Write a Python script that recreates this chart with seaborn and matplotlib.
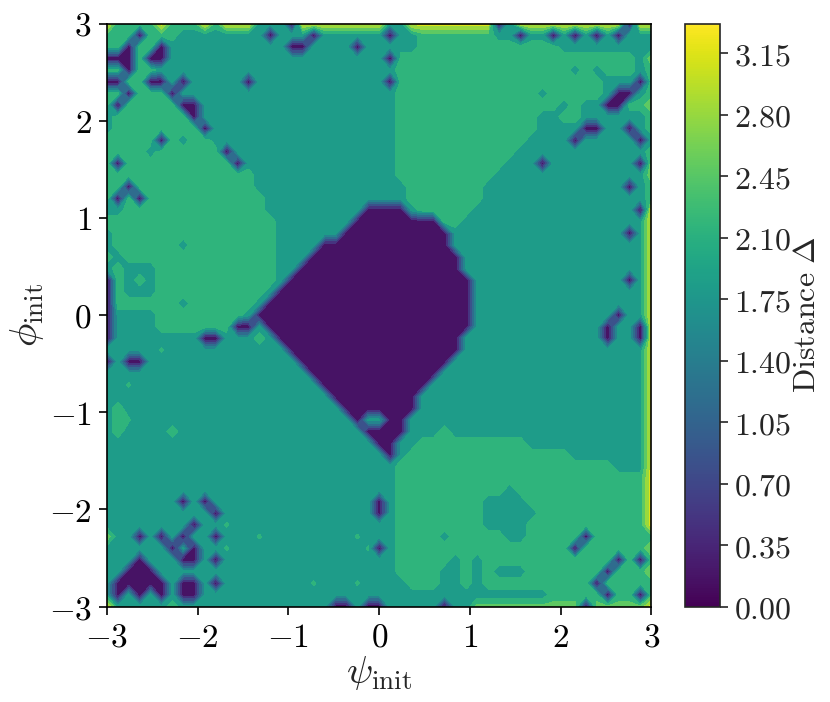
import numpy as np
import matplotlib
matplotlib.use("Agg")
import matplotlib.pyplot as plt
import seaborn as sns
from matplotlib.colors import Normalize
from matplotlib.cm import ScalarMappable

# Grid de condiciones iniciales: 51 x 51 nodos entre -3 y 3
n_nodes = 51
psi_init = np.linspace(-3, 3, n_nodes)
phi_init = np.linspace(-3, 3, n_nodes)

# Valor de la distancia para cada tipo de nodo
node_values = {"P": 0.05, "T": 1.9, "g": 2.15, "G": 2.3, "l": 2.55, "L": 2.7, "Y": 3.3}

# filas: r = 0 arriba (phi = 3) ... r = 50 abajo (phi = -3); columnas: i = 0 (psi = -3) ... 50
green_spans = {
    1: [(0, 2), (4, 6), (29, 35)],
    2: [(0, 1), (3, 4), (29, 41)],
    3: [(3, 3), (27, 48)],
    4: [(0, 1), (3, 4), (27, 48)],
    5: [(2, 3), (27, 45)],
    6: [(0, 1), (3, 5), (27, 45)],
    7: [(0, 0), (2, 6), (27, 43), (48, 49)],
    8: [(1, 7), (27, 39), (42, 43)],
    9: [(1, 8), (27, 39)],
    10: [(0, 9), (27, 38)],
    11: [(0, 10), (27, 37)],
    12: [(0, 11), (27, 36)],
    13: [(0, 13), (27, 35)],
    14: [(0, 13), (28, 34)],
    15: [(0, 14), (28, 34)],
    16: [(0, 14), (29, 33)],
    17: [(0, 15), (31, 32)],
    18: [(0, 15)], 19: [(0, 15)], 20: [(0, 15)], 21: [(0, 15)], 22: [(0, 15)],
    23: [(0, 14)],
    24: [(1, 13)],
    25: [(5, 12)],
    26: [(5, 11)],
    35: [(31, 31)],
    36: [(29, 38)],
    37: [(28, 42)],
    38: [(27, 46)],
    39: [(27, 49)], 40: [(27, 49)], 41: [(27, 49)], 42: [(27, 49)], 43: [(27, 49)],
    44: [(27, 49)], 45: [(27, 49)], 46: [(27, 49)], 47: [(27, 49)],
    48: [(28, 30), (33, 33), (35, 49)],
    49: [(41, 49)],
}

# zona central (distancia ~0)
purple_spans = {
    16: (24, 27), 17: (23, 30), 18: (22, 31), 19: (20, 31), 20: (19, 32),
    21: (18, 32), 22: (17, 33), 23: (16, 33), 24: (15, 33), 25: (14, 33),
    26: (15, 33), 27: (16, 32), 28: (17, 32), 29: (18, 31), 30: (19, 30),
    31: (20, 29), 32: (21, 28), 33: (22, 28), 34: (23, 27), 35: (24, 27),
    36: (25, 26), 37: (26, 26),
}

purple_points = [
    (3, 1), (2, 2), (0, 3), (1, 3), (2, 3), (2, 4), (5, 2), (4, 3), (5, 3),
    (0, 5), (1, 5), (4, 5), (5, 5), (7, 5), (2, 6), (6, 6), (1, 7), (7, 7),
    (8, 7), (8, 8), (9, 9), (5, 10), (11, 11), (1, 12), (12, 12), (2, 14),
    (1, 15), (3, 15), (13, 5), (15, 1), (17, 2), (18, 2), (19, 1), (23, 2),
    (0, 22), (0, 23), (0, 24), (0, 25), (0, 26), (0, 27), (0, 29), (2, 29),
    (3, 29), (9, 27), (10, 27), (12, 26), (13, 26),
    (7, 41), (9, 41), (10, 42), (8, 43), (3, 44), (5, 44), (7, 44), (10, 44),
    (6, 45), (8, 45), (7, 46), (8, 46), (10, 46), (3, 46), (2, 47), (3, 47),
    (4, 47), (1, 48), (2, 48), (3, 48), (4, 48), (5, 48), (3, 49), (1, 49),
    (5, 49), (7, 48), (8, 48), (7, 49), (8, 49), (10, 48),
    (25, 41), (25, 42), (25, 45),
    (26, 1), (26, 3), (26, 5), (38, 1), (41, 1), (43, 1), (45, 1), (47, 1),
    (46, 7), (47, 7), (47, 6), (48, 6), (49, 5), (44, 9), (45, 9), (43, 10),
    (40, 12), (48, 9), (49, 10), (49, 12), (48, 14), (49, 16), (48, 18),
    (48, 22), (47, 25), (46, 26), (46, 27), (49, 26), (49, 27),
    (44, 44), (43, 45), (47, 46), (46, 47), (45, 48), (46, 49), (49, 46), (49, 49),
]

teal_points = [
    (0, 8), (0, 9), (4, 11), (7, 10), (7, 19), (7, 24), (2, 21), (3, 21),
    (4, 21), (2, 22), (4, 22), (2, 23), (3, 23), (4, 23), (0, 16), (1, 16),
    (0, 18), (0, 19), (1, 20), (0, 21), (24, 34), (25, 34),
    (43, 4), (45, 4), (40, 6), (44, 7), (42, 7),
    (37, 40), (35, 41), (36, 41), (37, 41), (38, 41), (35, 42), (36, 42),
    (37, 42), (38, 42), (39, 42), (35, 43), (36, 43), (37, 43), (38, 43),
    (37, 44), (38, 44), (31, 44), (32, 46), (34, 46), (31, 47), (32, 47),
    (34, 47), (36, 47), (37, 47), (38, 47),
]

light_points = [
    ("g", 5, 28), ("g", 2, 31), ("g", 2, 34), ("G", 6, 35), ("G", 14, 27),
    ("G", 1, 33), ("G", 1, 34), ("G", 1, 35), ("G", 3, 22),
    ("g", 11, 43), ("g", 11, 45), ("g", 14, 44), ("g", 19, 48),
    ("g", 23, 44), ("g", 23, 48), ("g", 24, 45), ("L", 0, 44),
]

top_row = "YGGGGYGGGYGYYYTTTPYYYYYYYYTTYYYYYYYYPTYYYYYYYYYYPYY"
bottom_row = "YTTTTTGTTTTTTTTTTTTTTPPTPPTTTTTPTTllllllllllPlllllY"
right_col = "YTTLGGGLGGTGLLGGYYYYYYYYYYYYYYYYYYYYYYYYYYYYGLGLGGY"

# armamos la matriz de caracteres
grid = [["T"] * n_nodes for _ in range(n_nodes)]
for r, spans in green_spans.items():
    for a, b in spans:
        for i in range(a, b + 1):
            grid[r][i] = "G"
for r, (a, b) in purple_spans.items():
    for i in range(a, b + 1):
        grid[r][i] = "P"
for i, r in purple_points:
    grid[r][i] = "P"
for i, r in teal_points:
    grid[r][i] = "T"
for c, i, r in light_points:
    grid[r][i] = c
grid[0] = list(top_row)
grid[-1] = list(bottom_row)
for r in range(n_nodes):
    grid[r][-1] = right_col[r]

Z = np.array([[node_values[c] for c in row] for row in grid])[::-1]

levels = [0.0, 0.35, 0.7, 1.05, 1.4, 1.75, 2.1, 2.45, 2.8, 3.15, 3.5]
cbar_ticks = [0.0, 0.35, 0.7, 1.05, 1.4, 1.75, 2.1, 2.45, 2.8, 3.15]

sns.set_style("ticks")
plt.rcParams["mathtext.fontset"] = "cm"
plt.rcParams["font.family"] = ["DejaVu Serif"]
cmap = sns.color_palette("viridis", as_cmap=True)

W, H = 830, 702
fig = plt.figure(figsize=(W / 100, H / 100), dpi=100)
ax = fig.add_axes([107 / W, (H - 606.5) / H, 544.3 / W, 583 / H])
cax = fig.add_axes([685 / W, (H - 606.5) / H, 35 / W, 583 / H])

ax.contourf(psi_init, phi_init, Z, levels=levels, cmap=cmap)
ax.set_xlim(-3, 3)
ax.set_ylim(-3, 3)

ticks = [-3, -2, -1, 0, 1, 2, 3]
ax.set_xticks(ticks)
ax.set_yticks(ticks)
ax.set_xticklabels([f"${t}$" for t in ticks], fontsize=24)
ax.set_yticklabels([f"${t}$" for t in ticks], fontsize=24)
ax.tick_params(direction="out", length=6, width=1.2, colors="black", pad=5)
for s in ax.spines.values():
    s.set_visible(True)
    s.set_color("black")
    s.set_linewidth(1.2)

ax.set_xlabel(r"$\psi_{\rm init}$", fontsize=28, labelpad=0)
ax.set_ylabel(r"$\phi_{\rm init}$", fontsize=28, labelpad=2)

sm = ScalarMappable(norm=Normalize(0, 3.32), cmap=cmap)
cb = fig.colorbar(sm, cax=cax, ticks=cbar_ticks)
cb.ax.set_yticklabels([f"${t:.2f}$" for t in cbar_ticks], fontsize=23)
cb.ax.tick_params(direction="out", length=6, width=1.2, pad=4)
cb.outline.set_linewidth(1.2)
cb.set_label(r"$\mathrm{Distance}\ \Delta$", fontsize=23, labelpad=0)

fig.savefig("out.png", dpi=100)
